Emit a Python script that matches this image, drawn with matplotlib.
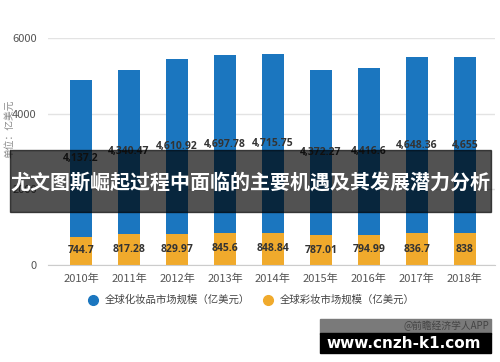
import numpy as np
import matplotlib
matplotlib.use("Agg")
import matplotlib.pyplot as plt
from matplotlib.patches import Rectangle

plt.rcParams['font.family'] = ['Noto Sans CJK SC', 'DejaVu Sans']

# data
years = ['2010年', '2011年', '2012年', '2013年', '2014年', '2015年', '2016年', '2017年', '2018年']
cosmetics = [4137.2, 4340.47, 4610.92, 4697.78, 4715.75, 4372.27, 4416.6, 4648.36, 4655]
color_cosm = [744.7, 817.28, 829.97, 845.6, 848.84, 787.01, 794.99, 836.7, 838]
cosm_labels = ['4,137.2', '4,340.47', '4,610.92', '4,697.78', '4,715.75', '4,372.27', '4,416.6', '4,648.36', '4,655']
color_labels = ['744.7', '817.28', '829.97', '845.6', '848.84', '787.01', '794.99', '836.7', '838']
yticks = [0, 2000, 4000, 6000]

blue = '#1b76bf'
yellow = '#f0aa2c'

fig = plt.figure(figsize=(5, 3.62), dpi=100)
ax = fig.add_axes([0.096, 0.268, 0.894, 0.627])

x = np.arange(len(years))
w = 0.46
ax.bar(x, color_cosm, w, color=yellow, zorder=2)
ax.bar(x, cosmetics, w, bottom=color_cosm, color=blue, zorder=2)

for i in range(len(years)):
    ax.text(x[i], color_cosm[i] / 2, color_labels[i], ha='center', va='center',
            fontsize=7.5, color='#333333', fontweight='bold', family='Open Sans', zorder=3)
    ax.text(x[i], color_cosm[i] + cosmetics[i] / 2, cosm_labels[i], ha='center', va='center',
            fontsize=7.5, color='#333333', fontweight='bold', family='Open Sans', zorder=3)

ax.set_xlim(-0.69, 8.63)
ax.set_ylim(0, 6000)
ax.set_yticks(yticks)
ax.set_xticks(x)
ax.set_xticklabels(years)
ax.tick_params(axis='both', length=0, labelsize=8, colors='#555555')
ax.tick_params(axis='x', pad=6)
ax.tick_params(axis='y', pad=8)
ax.grid(axis='y', color='#e3e3e3', linewidth=1, zorder=0)
for s in ['top', 'right', 'left']:
    ax.spines[s].set_visible(False)
ax.spines['bottom'].set_color('#cccccc')
ax.set_ylabel('单位：亿美元', fontsize=7, color='#888888')
ax.yaxis.set_label_coords(-0.075, 0.6)

# legend
fig.lines.append(plt.Line2D([93 / 500], [1 - 300 / 362], marker='o', markersize=7,
                            color=blue, transform=fig.transFigure, linestyle=''))
fig.text(105 / 500, 1 - 300 / 362, '全球化妆品市场规模（亿美元）', fontsize=7.5,
         color='#444444', va='center')
fig.lines.append(plt.Line2D([268 / 500], [1 - 300 / 362], marker='o', markersize=7,
                            color=yellow, transform=fig.transFigure, linestyle=''))
fig.text(280 / 500, 1 - 300 / 362, '全球彩妆市场规模（亿美元）', fontsize=7.5,
         color='#444444', va='center')

# dark banner with title
fig.patches.append(Rectangle((10 / 500, 1 - 212 / 362), 481 / 500, 62 / 362,
                             transform=fig.transFigure, color='black', alpha=0.68, zorder=5))
fig.text(250 / 500, 1 - 182 / 362, '尤文图斯崛起过程中面临的主要机遇及其发展潜力分析',
         fontsize=14.4, fontweight='bold', color='white', ha='center', va='center', zorder=6)

# bottom right site box
fig.patches.append(Rectangle((320 / 500, 1 - 334 / 362), 171 / 500, 15 / 362,
                             transform=fig.transFigure, color='#7a7a7a', zorder=5))
fig.text(489 / 500, 1 - 326 / 362, '@前瞻经济学人APP', fontsize=7, color='#444444',
         ha='right', va='center', zorder=6)
fig.patches.append(Rectangle((320 / 500, 1 - 353 / 362), 171 / 500, 20 / 362,
                             transform=fig.transFigure, color='black', zorder=5))
fig.text(404 / 500, 1 - 343 / 362, 'www.cnzh-k1.com', fontsize=11, fontweight='bold',
         color='white', ha='center', va='center', family='DejaVu Sans', zorder=6)

fig.savefig('out.png', dpi=100)
